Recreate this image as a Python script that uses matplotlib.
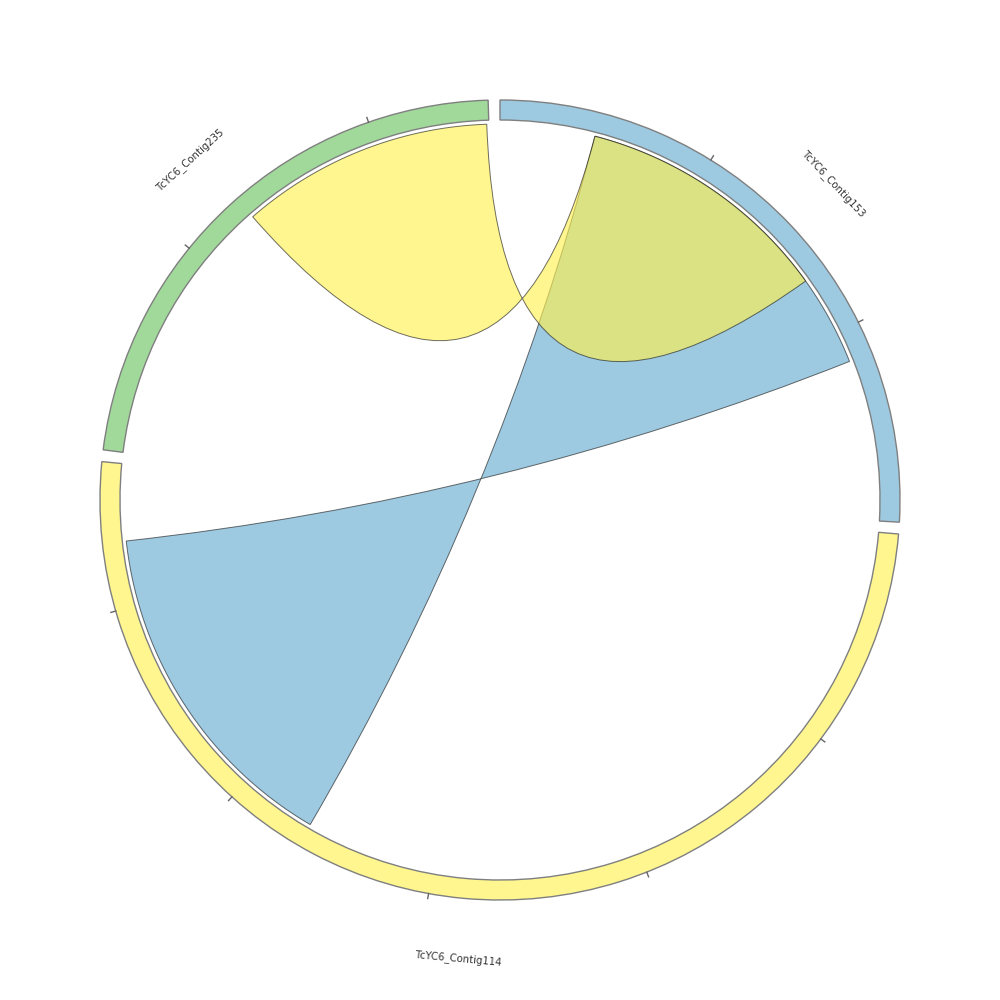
# chord plot of TcYC6 contigs with two links
import numpy as np
import matplotlib.pyplot as plt
from matplotlib.patches import Wedge, PathPatch
from matplotlib.path import Path

# contig names, lengths (tick units) and colours, in clockwise order from the top
contigs = ['TcYC6_Contig153', 'TcYC6_Contig114', 'TcYC6_Contig235']
lengths = [2.93, 5.68, 2.55]
seg_colors = ['#9ECAE1', '#FFF68F', '#A1D99B']

# links: (contig a, start, end, contig b, start, end)
link_a = [0, 2]
link_a_pos = [(0.46, 2.15), (1.31, 2.54)]
link_b = [1, 0]
link_b_pos = [(3.63, 5.31), (0.46, 1.71)]
link_colors = ['#65ABD0', '#FFF14E']
link_alpha = 0.63

gap = 1.7          # degrees between contigs
R_out, R_in, R_link = 400, 380, 376

total = sum(lengths)
dpu = (360 - gap * len(lengths)) / total
starts = []
a = 90.0
for L in lengths:
    starts.append(a)
    a -= L * dpu + gap


def ang(g, u):
    return starts[g] - u * dpu


def pt(theta, r=R_link):
    t = np.radians(theta)
    return (r * np.cos(t), r * np.sin(t))


fig = plt.figure(figsize=(10, 10), dpi=100)
ax = fig.add_axes([0, 0, 1, 1])
ax.set_xlim(-500, 500)
ax.set_ylim(-500, 500)
ax.set_aspect('equal')
ax.axis('off')

# contig segments, ticks and labels
for i, name in enumerate(contigs):
    t0 = starts[i]
    t1 = ang(i, lengths[i])
    ax.add_patch(Wedge((0, 0), R_out, t1, t0, width=R_out - R_in,
                       facecolor=seg_colors[i], edgecolor='#7F7F7F', lw=1.0, zorder=3))
    for k in range(1, int(lengths[i]) + 1):
        th = ang(i, k)
        p0, p1 = pt(th, R_out), pt(th, R_out + 5)
        ax.plot([p0[0], p1[0]], [p0[1], p1[1]], color='#666666', lw=1.0, zorder=3)
    mid = (t0 + t1) / 2
    rot = ((mid - 90 + 90) % 180) - 90
    x, y = pt(mid, 460)
    ax.text(x, y, name, rotation=rot, ha='center', va='center',
            fontsize=7.3, color='#333333', rotation_mode='anchor')

# links (ends joined start-to-start and end-to-end, hence the twist)
for j in range(len(link_a)):
    ga, gb = link_a[j], link_b[j]
    a0, a1 = ang(ga, link_a_pos[j][0]), ang(ga, link_a_pos[j][1])
    b0, b1 = ang(gb, link_b_pos[j][0]), ang(gb, link_b_pos[j][1])
    verts, codes = [], []
    for th in np.linspace(a0, a1, 60):
        verts.append(pt(th))
        codes.append(Path.MOVETO if not codes else Path.LINETO)
    verts += [(0, 0), pt(b1)]
    codes += [Path.CURVE3, Path.CURVE3]
    for th in np.linspace(b1, b0, 60)[1:]:
        verts.append(pt(th))
        codes.append(Path.LINETO)
    verts += [(0, 0), pt(a0)]
    codes += [Path.CURVE3, Path.CURVE3]
    ax.add_patch(PathPatch(Path(verts, codes), facecolor=link_colors[j],
                           alpha=link_alpha, edgecolor='#1A1A1A', lw=0.7, zorder=2))

fig.savefig('out.png', dpi=100, facecolor='white')
